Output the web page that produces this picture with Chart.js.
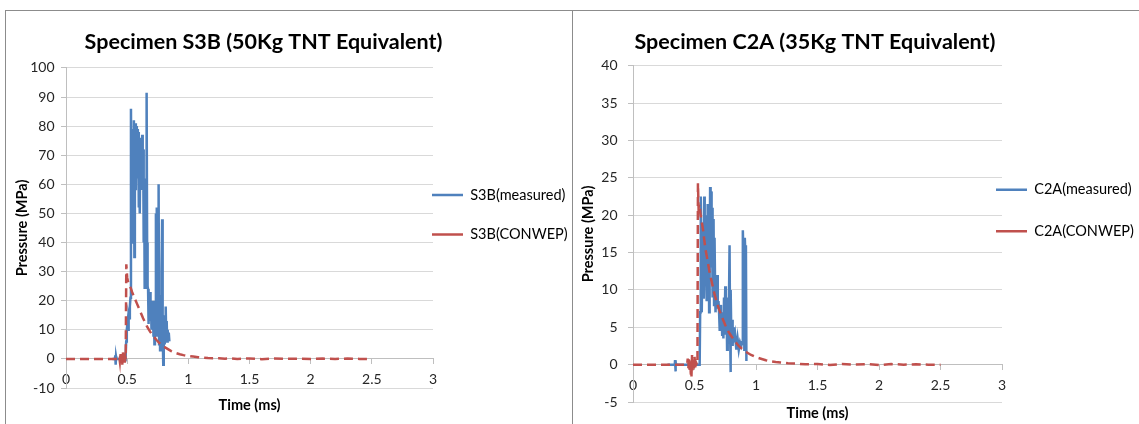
<!DOCTYPE html>
<html>
<head>
<meta charset="utf-8">
<script src="https://cdn.jsdelivr.net/npm/chart.js@4.4.1/dist/chart.umd.min.js"></script>
<style>
  html, body { margin: 0; padding: 0; background: #fff; }
  body { width: 1139px; height: 424px; position: relative; overflow: hidden; }
  .panel { position: absolute; top: 10px; height: 420px; border-top: 1px solid #8c8c8c; border-left: 1px solid #8c8c8c; }
  #panelLeft { left: 5px; width: 566px; }
  #panelRight { left: 572px; width: 570px; }
  canvas { display: block; }
</style>
</head>
<body>
<div class="panel" id="panelLeft"><canvas id="chartS3B" width="566" height="413"></canvas></div>
<div class="panel" id="panelRight"><canvas id="chartC2A" width="566" height="413"></canvas></div>
<script>
// ---- S3B, 50 kg TNT ----
const s3bMeasuredT = [0.38, 0.40, 0.403, 0.406, 0.409, 0.412, 0.43, 0.46, 0.48, 0.487, 0.492, 0.497, 0.502, 0.507, 0.512, 0.517, 0.522, 0.527,
  0.531, 0.535, 0.539, 0.543, 0.547, 0.551, 0.555, 0.559, 0.563, 0.567, 0.571, 0.575, 0.579, 0.583, 0.587, 0.591, 0.595, 0.599,
  0.603, 0.607, 0.611, 0.615, 0.619, 0.623, 0.627, 0.631, 0.635, 0.639, 0.643, 0.647, 0.651, 0.655, 0.659, 0.663, 0.667,
  0.671, 0.675, 0.679, 0.683, 0.687, 0.691, 0.695, 0.699, 0.703, 0.707, 0.711, 0.715, 0.719, 0.723, 0.727, 0.731, 0.735,
  0.739, 0.742, 0.746, 0.750, 0.754, 0.757, 0.761, 0.765, 0.769, 0.773, 0.777, 0.781, 0.786, 0.790, 0.795, 0.799, 0.803,
  0.807, 0.811, 0.815, 0.819, 0.823, 0.827, 0.831, 0.835, 0.840, 0.845, 0.850];
const s3bMeasuredP = [0, 0, 1.2, -2, 0.8, 0, 0, 0, 0.3, 0, 6, 10, 12, 10, 15, 14, 18, 21,
  86, 48, 79, 62, 76, 40, 82, 35, 70, 81, 58, 80, 66, 79, 62, 78, 52, 64,
  50, 71, 62, 76, 58, 77, 60, 72, 40, 62, 24, 30, 24, 55, 91.5, 40, 25,
  24, 12, 22, 14, 23, 13, 18, 10, 16, 12, 20, 8, 14, 5, 20, 10, 50,
  15, 52, 8, 42, 18, 60, 5, 22, 3, 15, 6, 30, 48, 10, -2, 8, 15,
  5, 12, 18, 8, 13, 6, 10, 7, 9, 6, 6];
const s3bConwepT = [0, 0.43, 0.435, 0.44, 0.445, 0.45, 0.455, 0.46, 0.465, 0.47, 0.475, 0.48, 0.485, 0.488,
  0.493, 0.50, 0.51, 0.52, 0.53, 0.54, 0.55, 0.56, 0.57, 0.58, 0.59, 0.60, 0.61, 0.62, 0.63, 0.64, 0.65, 0.66,
  0.67, 0.68, 0.69, 0.70, 0.72, 0.74, 0.76, 0.78, 0.80, 0.82, 0.84, 0.86, 0.88, 0.90, 0.93, 0.96, 1.00, 1.04,
  1.08, 1.12, 1.16, 1.20, 1.25, 1.30, 1.35, 1.40, 1.50, 1.60, 1.70, 1.80, 1.90, 2.00, 2.10, 2.20, 2.30, 2.40, 2.50];
const s3bConwepP = [0, 0, 0.8, -0.8, 2.2, -1.5, 1.5, -2, 2.5, -1, 1.8, -1.5, 0.8, 0,
  32.5, 28, 26, 25, 24.3, 23, 22, 21, 20, 19, 18, 17, 16, 15, 14, 13.1, 12.2, 11.3,
  10.6, 9.9, 9.2, 8.6, 7.5, 6.5, 5.6, 4.8, 4.2, 3.7, 3.2, 2.7, 2.3, 2.0, 1.6, 1.3, 1.0, 0.8,
  0.6, 0.45, 0.3, 0.2, 0.25, 0.05, 0.2, 0, 0.15, -0.1, 0.1, 0, 0.1, -0.05, 0.1, 0, 0.1, 0, 0];
const s3bNames = ['S3B(measured)', 'S3B(CONWEP)'];
const s3bTitle = 'Specimen S3B (50Kg TNT Equivalent)';
const s3bPressureTicks = { min: -10, max: 100, step: 10 };

// ---- C2A, 35 kg TNT ----
const c2aMeasuredT = [0.28, 0.34, 0.342, 0.345, 0.348, 0.352, 0.45, 0.50, 0.542, 0.546, 0.551, 0.555, 0.559, 0.563, 0.567,
  0.571, 0.575, 0.579, 0.583, 0.587, 0.591, 0.595, 0.599, 0.603, 0.607, 0.611, 0.615, 0.619, 0.623, 0.627, 0.631,
  0.635, 0.639, 0.643, 0.647, 0.651, 0.655, 0.659, 0.663, 0.667, 0.671, 0.675, 0.679, 0.683, 0.687, 0.691, 0.695,
  0.700, 0.705, 0.710, 0.715, 0.720, 0.725, 0.730, 0.735, 0.740, 0.745, 0.750, 0.755, 0.760, 0.765, 0.770, 0.775,
  0.780, 0.785, 0.789, 0.792, 0.796, 0.800, 0.805, 0.810, 0.815, 0.820, 0.830, 0.840, 0.850, 0.860, 0.870, 0.880,
  0.888, 0.893, 0.897, 0.901, 0.905, 0.909, 0.913, 0.918, 0.922];
const c2aMeasuredP = [0, 0, 0.6, -0.9, 0.3, 0, 0, 0, 0, 7, 22.5, 9, 7, 13, 18,
  9, 16, 22.5, 17, 13, 20, 11, 8.5, 14, 21.5, 14, 19, 7, 12, 23.8, 18,
  23.2, 13, 21, 9, 16, 19.5, 8, 17, 11, 7, 10, 8, 12, 9.5, 7.5, 8.5,
  7, 4.5, 8, 5.5, 7, 4, 6.5, 3.5, 9, 5, 10.5, 4, 9, 2, 6, 3,
  8, 16, 5, -1, 10, 3, 6, 2.5, 5, 3, 4, 2, 3.5, 2, 3, 2.5,
  3, 18, 15, 17, 2, 17, 15, 16, 0.5];
const c2aConwepT = [0, 0.44, 0.445, 0.45, 0.455, 0.46, 0.465, 0.47, 0.475, 0.48, 0.485, 0.49, 0.495, 0.50, 0.505, 0.51, 0.52,
  0.524, 0.528, 0.533, 0.54, 0.55, 0.56, 0.57, 0.58, 0.59, 0.60, 0.61, 0.62, 0.63, 0.64, 0.65, 0.66, 0.67, 0.68, 0.69,
  0.70, 0.72, 0.74, 0.76, 0.78, 0.80, 0.82, 0.84, 0.86, 0.88, 0.90, 0.93, 0.96, 1.00, 1.04, 1.08, 1.12, 1.16, 1.20,
  1.26, 1.32, 1.40, 1.50, 1.60, 1.70, 1.80, 1.90, 2.00, 2.10, 2.20, 2.30, 2.40, 2.50];
const c2aConwepP = [0, 0, 0.8, -0.5, 1, -1, 0.5, -1.2, -1.8, 1.3, -0.8, 0.6, -0.5, 1.2, -0.6, 0.4, 0,
  0, 24.3, 21, 21.5, 20, 19, 18, 16.6, 15.4, 14.5, 13.6, 12.6, 11.8, 11.1, 10.3, 9.6, 9.0, 8.4, 7.9,
  7.4, 6.5, 5.7, 4.9, 4.3, 3.8, 3.3, 2.9, 2.5, 2.2, 1.9, 1.6, 1.3, 1.0, 0.8, 0.6, 0.45, 0.35, 0.3,
  0.2, 0.15, 0.05, 0.1, -0.05, 0.1, 0, 0.08, -0.05, 0.08, 0, 0.05, 0, 0];
const c2aNames = ['C2A(measured)', 'C2A(CONWEP)'];
const c2aTitle = 'Specimen C2A (35Kg TNT Equivalent)';
const c2aPressureTicks = { min: -5, max: 40, step: 5 };

const timeTicks = { min: 0, max: 3, step: 0.5 };

const FONT = 'Lato, "Open Sans", sans-serif';
const BLUE = '#4f81bd';
const RED = '#c0504d';
const GRID = '#d9d9d9';
const AXIS = '#bfbfbf';
const TEXT = '#262626';

// Place the legend at a fixed spot and slide the title sideways once layout is done
const placeBoxes = {
  id: 'placeBoxes',
  afterLayout(chart, args, opts) {
    const legend = chart.legend;
    if (legend && opts.legend) {
      legend.left = opts.legend.left;
      legend.right = legend.left + legend.width;
      legend.top = opts.legend.top;
      legend.bottom = legend.top + legend.height;
    }
    const title = chart.titleBlock;
    if (title && opts.titleShift) {
      title.left += opts.titleShift;
      title.right += opts.titleShift;
    }
  }
};

function points(ts, ps) {
  return ts.map((t, i) => ({ x: t, y: ps[i] }));
}

function buildChart(canvas, spec) {
  const plain = v => String(v);
  return new Chart(canvas, {
    type: 'line',
    data: {
      datasets: [
        {
          label: spec.names[0],
          data: points(spec.measuredT, spec.measuredP),
          borderColor: BLUE, backgroundColor: BLUE,
          borderWidth: 2.5, pointRadius: 0, tension: 0, order: 1,
        },
        {
          label: spec.names[1],
          data: points(spec.conwepT, spec.conwepP),
          borderColor: RED, backgroundColor: RED,
          borderWidth: 2.5, borderDash: [9, 5], pointRadius: 0, tension: 0, order: 0,
        },
      ],
    },
    options: {
      responsive: false,
      animation: false,
      events: [],
      layout: { padding: { left: 0, top: 0, bottom: 0, right: spec.rightPad } },
      plugins: {
        title: {
          display: true,
          text: spec.title,
          color: '#000',
          font: { family: FONT, size: 21.5, weight: 'bold' },
          padding: { top: 18, bottom: spec.titleGap },
        },
        legend: {
          position: 'chartArea',
          align: 'start',
          labels: {
            usePointStyle: true,
            pointStyle: 'line',
            pointStyleWidth: 31,
            padding: spec.legendGap,
            color: '#000',
            font: { family: FONT, size: 14.5 },
            sort: (a, b) => a.datasetIndex - b.datasetIndex,
          },
        },
        tooltip: { enabled: false },
        placeBoxes: { legend: spec.legendAt, titleShift: spec.titleShift },
      },
      scales: {
        x: {
          type: 'linear',
          position: 'bottom',
          min: timeTicks.min, max: timeTicks.max,
          grid: { display: false },
          border: { display: false },
          ticks: { display: false },
          title: {
            display: true, text: 'Time (ms)', color: '#000',
            font: { family: FONT, size: 14.5, weight: 'bold' },
            padding: { top: 0, bottom: spec.xTitlePad },
          },
          afterFit: s => { s.height = spec.xBand; },
        },
        xTicks: {
          axis: 'x',
          type: 'linear',
          position: { y: 0 },
          min: timeTicks.min, max: timeTicks.max,
          ticks: {
            stepSize: timeTicks.step, callback: plain, color: TEXT,
            font: { family: FONT, size: 14 }, padding: 7, maxRotation: 0, autoSkip: false,
          },
          grid: { drawOnChartArea: false, drawTicks: true, tickLength: 5, color: AXIS },
          border: { color: AXIS, width: 1 },
          afterFit: s => { s.height = 0; },
        },
        y: {
          type: 'linear',
          position: 'left',
          min: spec.yTicks.min, max: spec.yTicks.max,
          ticks: {
            stepSize: spec.yTicks.step, callback: plain, color: TEXT,
            font: { family: FONT, size: 14 }, padding: spec.yLabelPad,
          },
          grid: { color: GRID, tickColor: AXIS, tickLength: 5 },
          border: { color: AXIS, width: 1 },
          title: {
            display: true, text: 'Pressure (MPa)', color: '#000',
            font: { family: FONT, size: 14.5, weight: 'bold' },
            padding: { top: spec.yTitlePad, bottom: 0 },
          },
          afterFit: s => { s.width = 60; },
        },
      },
    },
    plugins: [placeBoxes],
  });
}

buildChart(document.getElementById('chartS3B'), {
  title: s3bTitle, names: s3bNames,
  measuredT: s3bMeasuredT, measuredP: s3bMeasuredP,
  conwepT: s3bConwepT, conwepP: s3bConwepP,
  yTicks: s3bPressureTicks,
  rightPad: 139, titleGap: 13.1, xBand: 36, xTitlePad: 10.3, yTitlePad: 7.3, yLabelPad: 6.5,
  legendGap: 25, legendAt: { left: 401, top: 151.8 }, titleShift: 44,
});

buildChart(document.getElementById('chartC2A'), {
  title: c2aTitle, names: c2aNames,
  measuredT: c2aMeasuredT, measuredP: c2aMeasuredP,
  conwepT: c2aConwepT, conwepP: c2aConwepP,
  yTicks: c2aPressureTicks,
  rightPad: 137, titleGap: 11.1, xBand: 22, xTitlePad: 2.3, yTitlePad: 6.3, yLabelPad: 10.5,
  legendGap: 27, legendAt: { left: 396, top: 144.5 }, titleShift: 27.5,
});
</script>
</body>
</html>
